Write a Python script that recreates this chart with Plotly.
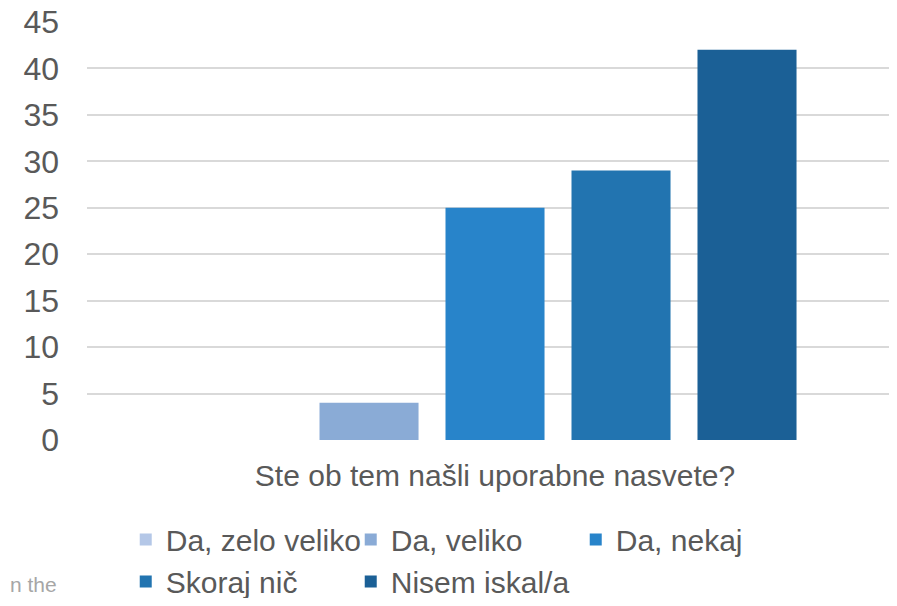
import plotly.graph_objects as go

category = ["Ste ob tem našli uporabne nasvete?"]
series_names = ["Da, zelo veliko", "Da, veliko", "Da, nekaj", "Skoraj nič", "Nisem iskal/a"]
series_values = [0, 4, 25, 29, 42]
series_colors = ["#B4C7E7", "#8AABD6", "#2884CA", "#2274B0", "#1B6096"]
y_ticks = [0, 5, 10, 15, 20, 25, 30, 35, 40, 45]

FONT = "Liberation Sans, Arial, sans-serif"
TXT = "#595959"

fig = go.Figure()
for name, val, col in zip(series_names, series_values, series_colors):
    fig.add_trace(go.Bar(name=name, x=category, y=[val], marker=dict(color=col, line=dict(width=0))))

# page body has an 8px margin; size the figure so it fits the 897x606 window exactly
fig.update_layout(
    width=881, height=590,
    margin=dict(l=79, r=0, t=14, b=158, autoexpand=False),
    paper_bgcolor="white", plot_bgcolor="white",
    barmode="group", bargap=0.228, bargroupgap=0.214,
    font=dict(family=FONT, color=TXT, size=30),
    xaxis=dict(range=[-0.5, 0.4828], showgrid=False, zeroline=False, showline=False,
               tickfont=dict(size=30, color=TXT), ticklabelstandoff=15, automargin=False),
    yaxis=dict(range=[0, 45], tickvals=y_ticks, showgrid=True, gridcolor="#D9D9D9", gridwidth=1.5,
               zeroline=False, showline=False, tickfont=dict(size=32, color=TXT),
               ticklabelstandoff=27, automargin=False, ticklabeloverflow="allow"),
    showlegend=True,
    legend=dict(orientation="h", x=0.0483, xanchor="left", y=-0.176, yanchor="top",
                entrywidth=180, entrywidthmode="pixels", font=dict(size=30, color=TXT),
                itemwidth=30, traceorder="normal", tracegroupgap=0),
)
fig.add_annotation(text="n the", xref="paper", yref="paper", x=-79 / 802, y=-0.345,
                   xanchor="left", yanchor="middle", showarrow=False,
                   font=dict(size=21, color="#A6A6A6", family=FONT))

fig.write_html("out.html")
